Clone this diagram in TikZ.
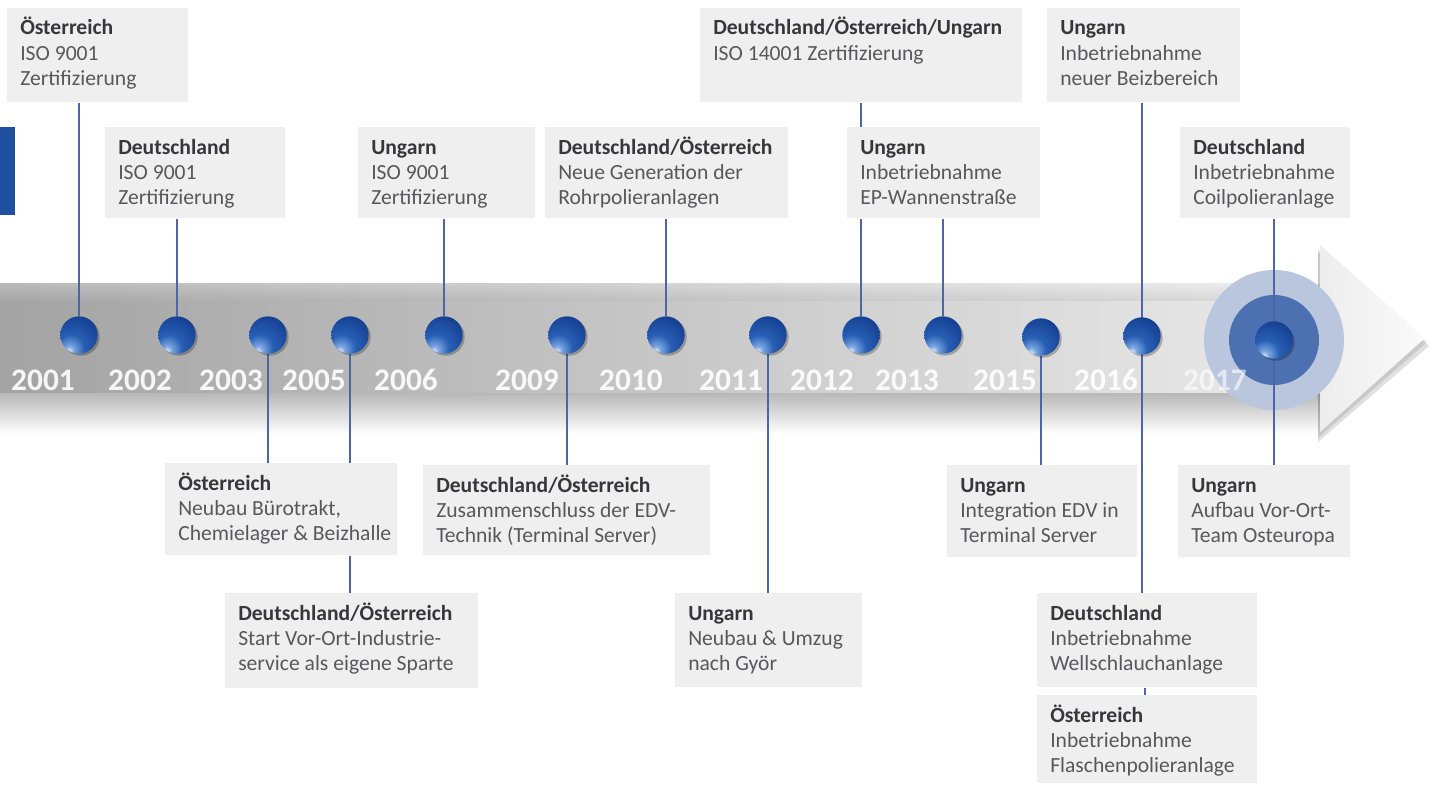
\documentclass[tikz,border=0pt]{standalone}
\usepackage{fontspec}
\setmainfont{Carlito}
\definecolor{boxfill}{RGB}{240,239,240}
\definecolor{headcol}{RGB}{55,55,58}
\definecolor{bodycol}{RGB}{88,88,90}
\definecolor{linecol}{RGB}{78,102,165}
\definecolor{barblue}{RGB}{31,79,159}
\definecolor{ringout}{RGB}{186,198,222}
\definecolor{ringin}{RGB}{76,112,176}
\definecolor{bhi}{RGB}{235,242,252}
\definecolor{bmida}{RGB}{120,165,225}
\definecolor{bmidb}{RGB}{40,95,180}
\definecolor{bdark}{RGB}{22,66,148}
\definecolor{bdeep}{RGB}{12,40,100}
\pgfdeclareradialshading{glossy}{\pgfpoint{-14bp}{-22bp}}{color(0bp)=(bhi); color(6bp)=(bmida); color(18bp)=(bmidb); color(38bp)=(bdark); color(62bp)=(bdeep); color(90bp)=(bdeep)}
\pgfdeclarelayer{back}
\pgfdeclarelayer{mid}
\pgfsetlayers{back,mid,main}
\tikzset{
  box/.style={rectangle, fill=boxfill, draw=none, inner sep=0pt, anchor=north west},
  txt/.style={inner sep=0pt, anchor=base west, text=bodycol, font=\fontsize{16.2}{19.1}\selectfont},
  conn/.style={draw=linecol, line width=1.5pt},
  ball/.style={circle, minimum size=28pt, inner sep=0pt, shading=glossy,
    preaction={fill=black, opacity=.25, transform canvas={xshift=1.5pt,yshift=-1.5pt}}},
  year/.style={text=white, text opacity=.9, inner sep=0pt, font=\bfseries\fontsize{23.5}{24}\selectfont}
}
\newcommand\tbox[7]{%
  \node[box, minimum width=#4*0.75pt, minimum height=#5*0.75pt] (#1) at (#2,#3) {};
  \node[txt] (#1t) at ([xshift=13*0.75pt,yshift=-27*0.75pt]#1.north west)
    {\begin{tabular}[t]{@{}l@{}}{\color{headcol}\bfseries #6}\\#7\end{tabular}};%
}
\begin{document}
\begin{tikzpicture}[x=0.75pt,y=-0.75pt]
\useasboundingbox (0,0) rectangle (1429,785);
\begin{pgfonlayer}{back}
  \fill[white] (0,0) rectangle (1429,785);
  % band shadow
  \shade[top color=black!30, bottom color=white] (0,390) rectangle (1320,434);
  % band
  \shade[left color=black!36, right color=black!8] (0,283) rectangle (1320,392);
  \shade[top color=white, bottom color=black!30, opacity=.25] (0,283) rectangle (1320,300);
  % arrow head
  \fill[black, opacity=.12] (1318,252) -- (1429,346) -- (1318,442) -- cycle;
  \fill[black, opacity=.10] (1318,249) -- (1427,342) -- (1318,438) -- cycle;
  \shade[left color=black!7, right color=black!2] (1320,245) -- (1425,338) -- (1320,432) -- cycle;
  % rings 2017
  \fill[ringout] (1274,340) circle[radius=52.5pt];
  \fill[ringin] (1274,340) circle[radius=33.75pt];
\end{pgfonlayer}

% left blue bar
\fill[barblue] (0,127) rectangle (15,215);

% boxes above
\tbox{b1}{7}{8}{181}{94}{Österreich}{ISO 9001\\Zertifizierung}
\tbox{b2}{105}{127}{180}{91}{Deutschland}{ISO 9001\\Zertifizierung}
\tbox{b3}{358}{127}{177}{91}{Ungarn}{ISO 9001\\Zertifizierung}
\tbox{b4}{545}{127}{243}{91}{Deutschland/Österreich}{Neue Generation der\\Rohrpolieranlagen}
\tbox{b5}{700}{8}{322}{94}{Deutschland/Österreich/Ungarn}{ISO 14001 Zertifizierung}
\tbox{b6}{847}{127}{193}{91}{Ungarn}{Inbetriebnahme\\EP-Wannenstraße}
\tbox{b7}{1047}{8}{193}{94}{Ungarn}{Inbetriebnahme\\neuer Beizbereich}
\tbox{b8}{1180}{127}{170}{91}{Deutschland}{Inbetriebnahme\\Coilpolieranlage}
% boxes below
\tbox{b9}{165}{463}{232}{92}{Österreich}{Neubau Bürotrakt,\\Chemielager \& Beizhalle}
\tbox{b10}{225}{593}{253}{95}{Deutschland/Österreich}{Start Vor-Ort-Industrie-\\service als eigene Sparte}
\tbox{b11}{423}{465}{287}{90}{Deutschland/Österreich}{Zusammenschluss der EDV-\\Technik (Terminal Server)}
\tbox{b12}{675}{593}{187}{94}{Ungarn}{Neubau \& Umzug\\nach Györ}
\tbox{b13}{947}{465}{190}{92}{Ungarn}{Integration EDV in\\Terminal Server}
\tbox{b14}{1178}{465}{172}{92}{Ungarn}{Aufbau Vor-Ort-\\Team Osteuropa}
\tbox{b15}{1037}{593}{220}{94}{Deutschland}{Inbetriebnahme\\Wellschlauchanlage}
\tbox{b16}{1037}{695}{220}{88}{Österreich}{Inbetriebnahme\\Flaschenpolieranlage}

% balls
\node[ball] (k1) at (79,335) {};
\node[ball] (k2) at (177,335) {};
\node[ball] (k3) at (268,335) {};
\node[ball] (k4) at (350,335) {};
\node[ball] (k5) at (444,335) {};
\node[ball] (k6) at (567,335) {};
\node[ball] (k7) at (666,335) {};
\node[ball] (k8) at (768,335) {};
\node[ball] (k9) at (861,335) {};
\node[ball] (k10) at (943,335) {};
\node[ball] (k11) at (1041,337) {};
\node[ball] (k12) at (1142,336) {};
\node[ball] (k13) at (1274,340) {};

% years
\node[year] (y1) at (43,380) {2001};
\node[year] (y2) at (140,380) {2002};
\node[year] (y3) at (231,380) {2003};
\node[year] (y4) at (314,380) {2005};
\node[year] (y5) at (406,380) {2006};
\node[year] (y6) at (527,380) {2009};
\node[year] (y7) at (631,380) {2010};
\node[year] (y8) at (731,380) {2011};
\node[year] (y9) at (822,380) {2012};
\node[year] (y10) at (907,380) {2013};
\node[year] (y11) at (1005,380) {2015};
\node[year] (y12) at (1106,380) {2016};
\node[year, text opacity=.6] (y13) at (1215,380) {2017};

% connectors
\begin{pgfonlayer}{mid}
  \draw[conn] (b1.south -| k1) -- (k1);
  \draw[conn] (b2.south -| k2) -- (k2);
  \draw[conn] (k3) -- (b9.north -| k3);
  \draw[conn] (k4) -- (b9.north -| k4);
  \draw[conn] (b9.south -| k4) -- (b10.north -| k4);
  \draw[conn] (b3.south -| k5) -- (k5);
  \draw[conn] (k6) -- (b11.north -| k6);
  \draw[conn] (b4.south -| k7) -- (k7);
  \draw[conn] (k8) -- (b12.north -| k8);
  \draw[conn] (b5.south -| k9) -- (b6.north -| k9);
  \draw[conn] (b6.south -| k9) -- (k9);
  \draw[conn] (b6.south -| k10) -- (k10);
  \draw[conn] (k11) -- (b13.north -| k11);
  \draw[conn] (b7.south -| k12) -- (b15.north -| k12);
  \draw[conn, line width=1pt] ([xshift=2.25pt]b15.south -| k12) -- ([xshift=2.25pt]b16.north -| k12);
  \draw[conn] (b8.south -| k13) -- (b14.north -| k13);
\end{pgfonlayer}
\end{tikzpicture}
\end{document}
